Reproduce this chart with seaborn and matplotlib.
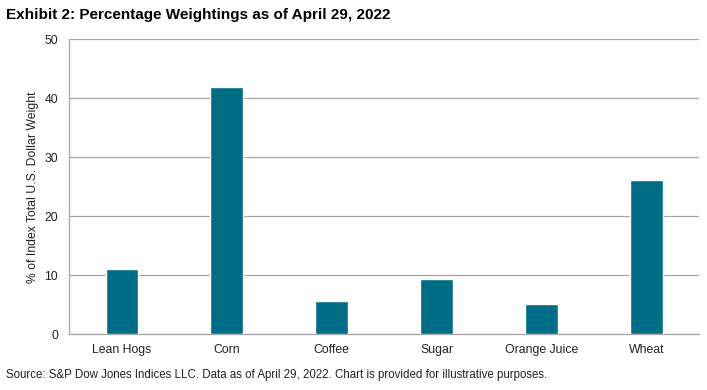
import matplotlib
matplotlib.use("Agg")
import matplotlib.pyplot as plt
import pandas as pd
import seaborn as sns

# values
commodities = ["Lean Hogs", "Corn", "Coffee", "Sugar", "Orange Juice", "Wheat"]
weights = [11.1, 42.0, 5.6, 9.3, 5.1, 26.1]

df = pd.DataFrame({"Commodity": commodities, "Weight": weights})

sns.set_theme(style="white")
plt.rcParams["font.family"] = ["Liberation Sans", "DejaVu Sans"]

fig = plt.figure(figsize=(7.07, 3.9), dpi=100)
ax = fig.add_axes([0.098, 0.143, 0.891, 0.756])

sns.barplot(data=df, x="Commodity", y="Weight", color="#006D86",
            width=0.31, saturation=1, ax=ax, zorder=3)

ax.set_ylim(0, 50)
ax.set_yticks(range(0, 51, 10))
ax.yaxis.grid(True, color="#a6a6a6", linewidth=0.9, zorder=0)
ax.set_axisbelow(True)
ax.set_xlabel("")
ax.set_ylabel("% of Index Total U.S. Dollar Weight", fontsize=8.8, color="#222222", labelpad=4)
ax.tick_params(axis="both", length=0, labelsize=8.8, colors="#222222")
ax.tick_params(axis="x", pad=7)
ax.tick_params(axis="y", pad=8)

for side in ["top", "right"]:
    ax.spines[side].set_visible(False)
for side in ["left", "bottom"]:
    ax.spines[side].set_color("#a6a6a6")
    ax.spines[side].set_linewidth(0.9)

fig.text(0.008, 0.962, "Exhibit 2: Percentage Weightings as of April 29, 2022",
         fontsize=11, fontweight="bold", ha="left", va="center", color="#000000")
fig.text(0.008, 0.038, "Source: S&P Dow Jones Indices LLC. Data as of April 29, 2022. "
         "Chart is provided for illustrative purposes.",
         fontsize=8.3, ha="left", va="center", color="#222222")

fig.savefig("out.png", dpi=100)
